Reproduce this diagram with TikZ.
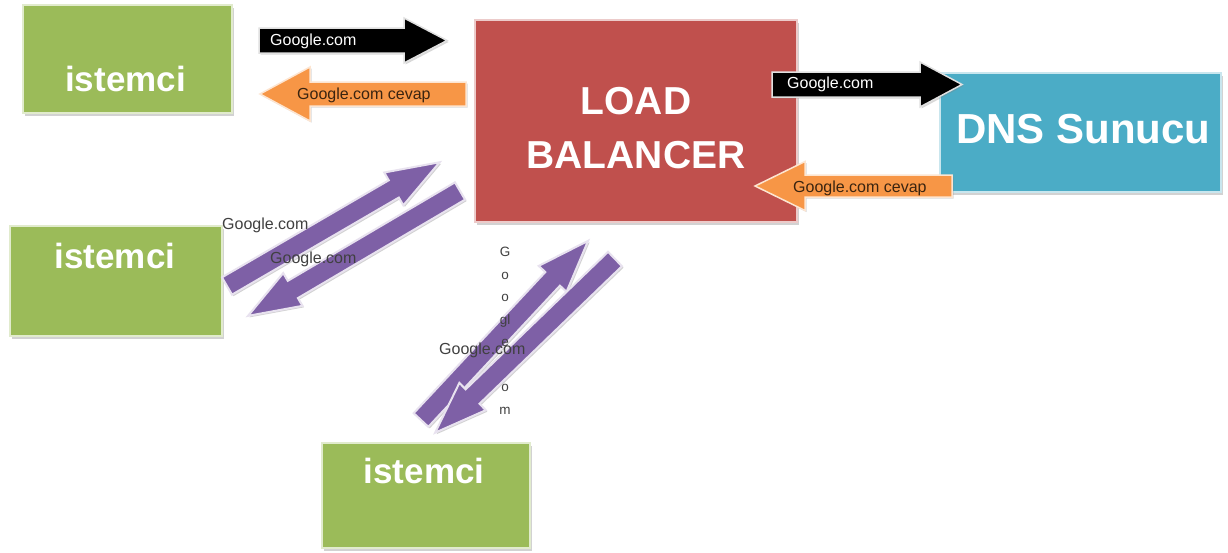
\documentclass[tikz,border=0pt]{standalone}
\usepackage{fontspec}
\setmainfont{Liberation Sans}
\usetikzlibrary{shadows}
\definecolor{ogreen}{HTML}{9BBB59}
\definecolor{ored}{HTML}{C0504D}
\definecolor{oblue}{HTML}{4BACC6}
\definecolor{oorange}{HTML}{F79646}
\definecolor{opurple}{HTML}{7E60A6}
\definecolor{olabel}{HTML}{3A2410}
\newcommand\blockarrow[7]{%
  \begin{scope}[shift={#2}, rotate=#3]
    \draw[#1] (0,#5) -- ({#4-#7},#5) -- ({#4-#7},#6) -- (#4,0) -- ({#4-#7},-#6) -- ({#4-#7},-#5) -- (0,-#5) -- cycle;
  \end{scope}}
\tikzset{
  box/.style={draw=#1!30!white, line width=2pt, fill=#1,
    drop shadow={shadow xshift=1.5pt, shadow yshift=-2.5pt, opacity=.35}},
  boxtext/.style={text=white, inner sep=0pt, anchor=base},
  istfont/.style={font=\fontsize{35}{40}\selectfont\bfseries},
  bigfont/.style={font=\fontsize{39}{44}\selectfont\bfseries},
  blackarrow/.style={fill=black, draw=white!88!black, line width=1.5pt,
    drop shadow={shadow xshift=1.5pt, shadow yshift=-1.5pt, opacity=.3}},
  orangearrow/.style={fill=oorange, draw=oorange!25!white, line width=1.5pt,
    drop shadow={shadow xshift=1.5pt, shadow yshift=-1.5pt, opacity=.3}},
  purplearrow/.style={fill=opurple, draw=opurple!18!white, line width=2pt,
    drop shadow={shadow xshift=1.5pt, shadow yshift=-1.5pt, opacity=.35}},
  lbl/.style={inner sep=0pt, anchor=base west, font=\fontsize{16}{18}\selectfont},
}
\begin{document}
\begin{tikzpicture}[x=1pt, y=-1pt]
\useasboundingbox (0,0) rectangle (1228,552);
\fill[white] (0,0) rectangle (1228,552);

% boxes
\node[box=ogreen, minimum width=209pt, minimum height=108pt] (ist1) at (127.5,59) {};
\node[box=ogreen, minimum width=212pt, minimum height=110pt] (ist2) at (116,281) {};
\node[box=ogreen, minimum width=208pt, minimum height=105pt] (ist3) at (426,495.5) {};
\node[box=ored, minimum width=322pt, minimum height=202pt] (lb) at (636,121) {};
\node[box=oblue, minimum width=281pt, minimum height=119pt] (dns) at (1080.5,132.5) {};

\node[boxtext, istfont] (ist1t) at (125.5,91) {istemci};
\node[boxtext, istfont] (ist2t) at (115,268) {istemci};
\node[boxtext, istfont] (ist3t) at (424,483) {istemci};
\node[boxtext, bigfont] (lbt1) at (636,114) {LOAD};
\node[boxtext, bigfont] (lbt2) at (636,168) {BALANCER};
\node[boxtext, font=\fontsize{42}{48}\selectfont\bfseries] (dnst) at (1083.5,143) {DNS Sunucu};

% horizontal arrows
\coordinate (b1) at (259,40.5);
\coordinate (o1) at (466,94);
\coordinate (b2) at (772,84.5);
\coordinate (o2) at (952,186);
\blockarrow{blackarrow}{(b1)}{0}{188}{12.5}{22.5}{43}
\blockarrow{orangearrow}{(o1)}{180}{206}{12}{27}{50}
\blockarrow{blackarrow}{(b2)}{0}{190}{12.5}{22.5}{42}
\blockarrow{orangearrow}{(o2)}{180}{197}{11}{24.5}{50}

\node[lbl, text=white] (l1) at (270,45.5) {Google.com};
\node[lbl, text=olabel] (l2) at (297,99.5) {Google.com cevap};
\node[lbl, text=white] (l3) at (787,88.5) {Google.com};
\node[lbl, text=olabel] (l4) at (793,192.5) {Google.com cevap};

% purple arrows
\coordinate (pa) at (227,286);
\coordinate (pb) at (460,191);
\coordinate (pc) at (421,420);
\coordinate (pd) at (615,259);
\blockarrow{purplearrow}{(pa)}{30.2}{246}{10}{19}{53}
\blockarrow{purplearrow}{(pb)}{210.5}{246}{10}{19}{52}
\blockarrow{purplearrow}{(pc)}{47}{245}{10}{19}{52}

\node[inner sep=0pt, anchor=north, align=center, text=black!75,
  font=\fontsize{13.5}{22.5}\selectfont] (vt) at (505,247) {G\\o\\o\\gl\\e\\.c\\o\\m};

\blockarrow{purplearrow}{(pd)}{224}{250}{10}{19}{52}

\node[lbl, text=black!75] (l5) at (222,229) {Google.com};
\node[lbl, text=black!75] (l6) at (270,263) {Google.com};
\node[lbl, text=black!75] (l7) at (439,354) {Google.com};
\end{tikzpicture}
\end{document}
